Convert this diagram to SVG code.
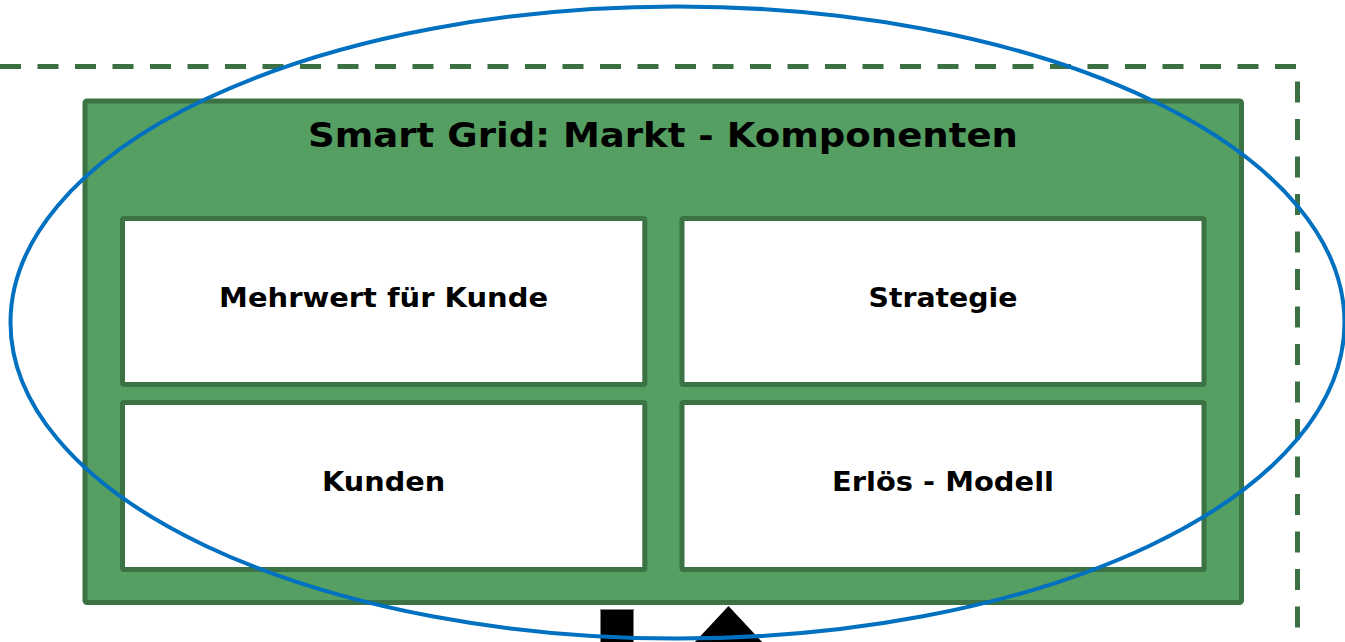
<svg xmlns="http://www.w3.org/2000/svg" width="1345" height="642" viewBox="0 0 1345 642">
<style>
.frame{fill:none;stroke:#3b7043;stroke-width:5;stroke-dasharray:21 16.5}
.outer{fill:#549f61;stroke:#3b7345;stroke-width:5}
.box{fill:#ffffff;stroke:#3b7345;stroke-width:5}
.t{font-family:"DejaVu Sans",Verdana,sans-serif;font-weight:bold;fill:#000;text-anchor:middle}
.title{font-size:34px}
.lbl{font-size:26px}
.ell{fill:none;stroke:#0070c0;stroke-width:4}
</style>
<rect width="1345" height="642" fill="#ffffff"/>
<g id="frame">
<path class="frame" d="M0 66.5 H1297.5 V642"/>
</g>
<g id="market">
<rect class="outer" x="85" y="101" width="1156.5" height="501.5" rx="2"/>
<text class="t title" x="663" y="147" textLength="710" lengthAdjust="spacingAndGlyphs">Smart Grid: Markt - Komponenten</text>
</g>
<g id="mehrwert">
<rect class="box" x="122.5" y="218.5" width="522.3" height="166" rx="1.5"/>
<text class="t lbl" x="383.6" y="307" textLength="329" lengthAdjust="spacingAndGlyphs">Mehrwert für Kunde</text>
</g>
<g id="strategie">
<rect class="box" x="682" y="218.5" width="522" height="166" rx="1.5"/>
<text class="t lbl" x="943" y="307" textLength="149" lengthAdjust="spacingAndGlyphs">Strategie</text>
</g>
<g id="kunden">
<rect class="box" x="122.5" y="402.5" width="522.3" height="167" rx="1.5"/>
<text class="t lbl" x="383.6" y="491" textLength="123" lengthAdjust="spacingAndGlyphs">Kunden</text>
</g>
<g id="erloes">
<rect class="box" x="682" y="402.5" width="522" height="167" rx="1.5"/>
<text class="t lbl" x="943" y="491" textLength="222" lengthAdjust="spacingAndGlyphs">Erlös - Modell</text>
</g>
<g id="symbols">
<rect x="600.5" y="609.5" width="33" height="34" fill="#000" stroke="#808080" stroke-width="1"/>
<polygon points="694,643 728.5,606 763,643" fill="#000"/>
</g>
<g id="connectors"></g>
<g id="ellipse">
<ellipse class="ell" cx="677.5" cy="322.5" rx="667" ry="316"/>
</g>
</svg>
